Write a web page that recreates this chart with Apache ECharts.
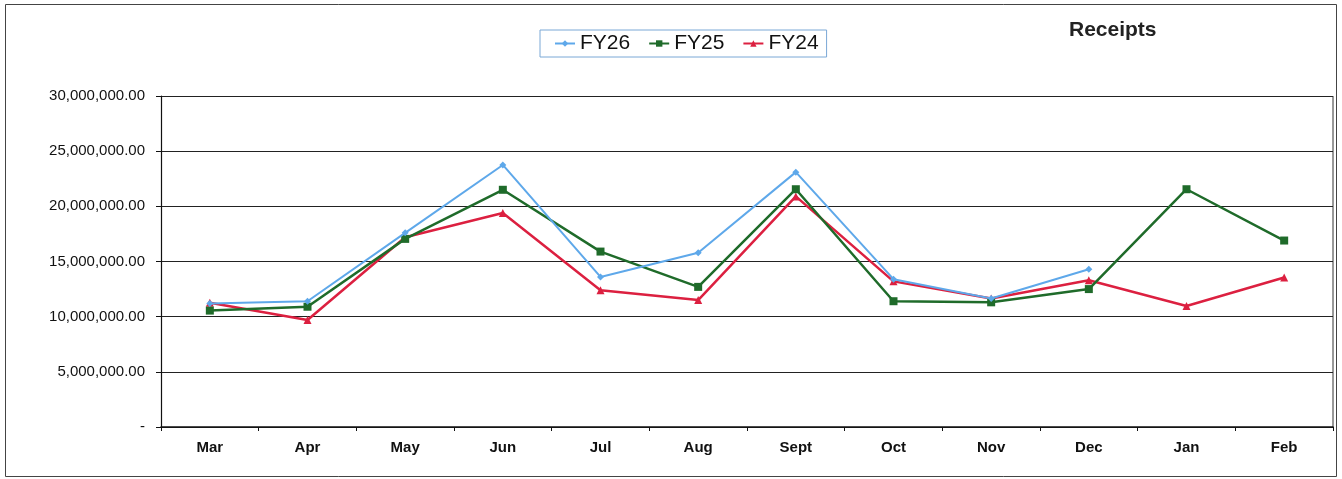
<!DOCTYPE html>
<html>
<head>
<meta charset="utf-8">
<script src="https://cdn.jsdelivr.net/npm/echarts@6/dist/echarts.min.js"></script>
<style>
html,body{margin:0;padding:0;background:#fff;}
#chart{width:1342px;height:479px;}
</style>
</head>
<body>
<div id="chart"></div>
<script>
var categories = ['Mar','Apr','May','Jun','Jul','Aug','Sept','Oct','Nov','Dec','Jan','Feb'];
var fy26 = [11200000, 11400000, 17600000, 23750000, 13600000, 15800000, 23100000, 13400000, 11650000, 14300000, null, null];
var fy25 = [10550000, 10900000, 17050000, 21500000, 15900000, 12700000, 21550000, 11400000, 11300000, 12500000, 21550000, 16900000];
var fy24 = [11270000, 9700000, 17200000, 19400000, 12400000, 11500000, 20900000, 13200000, 11650000, 13300000, 10970000, 13550000];
var seriesNames = ['FY26','FY25','FY24'];
var yTicks = {min: 0, max: 30000000, interval: 5000000};

function fmt(v){
  if (v === 0) return '-';
  return v.toLocaleString('en-US', {minimumFractionDigits: 2, maximumFractionDigits: 2});
}

var chart = echarts.init(document.getElementById('chart'), null, {renderer: 'canvas'});
var font = 'Liberation Sans, Arial, sans-serif';
chart.setOption({
  animation: false,
  backgroundColor: '#fff',
  title: {
    text: 'Receipts',
    left: 1064, top: 15,
    textStyle: {fontFamily: font, fontSize: 21, fontWeight: 'bold', color: '#222'}
  },
  legend: {
    data: seriesNames,
    left: 540, top: 30,
    itemWidth: 20, itemHeight: 8,
    itemGap: 18,
    padding: [3, 8, 3, 14],
    borderColor: '#7aa8d6', borderWidth: 1,
    textStyle: {fontFamily: font, fontSize: 21, color: '#111'}
  },
  grid: {left: 161, right: 9, top: 96, bottom: 52, containLabel: false},
  xAxis: {
    type: 'category',
    data: categories,
    boundaryGap: true,
    axisLine: {lineStyle: {color: '#111', width: 1.5}},
    axisTick: {show: true, length: 4, lineStyle: {color: '#111'}},
    axisLabel: {fontFamily: font, fontSize: 15, fontWeight: 'bold', color: '#111', margin: 13},
    splitLine: {show: false}
  },
  yAxis: {
    type: 'value',
    min: yTicks.min, max: yTicks.max, interval: yTicks.interval,
    axisLine: {show: true, lineStyle: {color: '#111', width: 1.2}},
    axisTick: {show: true, length: 5, lineStyle: {color: '#111'}},
    axisLabel: {fontFamily: font, fontSize: 15, color: '#111', margin: 16, formatter: fmt},
    splitLine: {show: true, lineStyle: {color: '#222', width: 1.2}}
  },
  series: [
    {name: 'FY26', type: 'line', data: fy26, symbol: 'diamond', symbolSize: 7,
     lineStyle: {color: '#5ea8ea', width: 2}, itemStyle: {color: '#5ea8ea'}, connectNulls: false, z: 3},
    {name: 'FY25', type: 'line', data: fy25, symbol: 'rect', symbolSize: 8,
     lineStyle: {color: '#1f6b2a', width: 2.5}, itemStyle: {color: '#1f6b2a'}, z: 2},
    {name: 'FY24', type: 'line', data: fy24, symbol: 'triangle', symbolSize: 8,
     lineStyle: {color: '#dc2040', width: 2.5}, itemStyle: {color: '#dc2040'}, z: 1}
  ],
  graphic: [
    {type: 'rect', shape: {x: 5.5, y: 4.5, width: 1331, height: 472}, style: {fill: null, stroke: '#444', lineWidth: 1}, silent: true},
    {type: 'line', shape: {x1: 1333, y1: 96, x2: 1333, y2: 427}, style: {stroke: '#333', lineWidth: 1}, silent: true}
  ]
});
</script>
</body>
</html>
